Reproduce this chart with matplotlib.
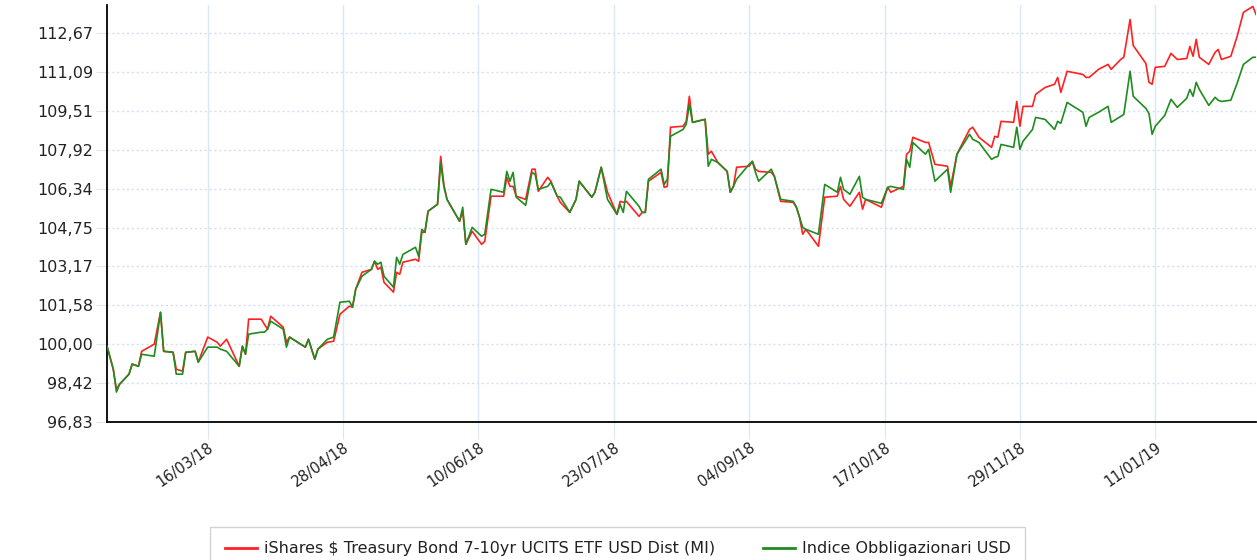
import matplotlib
matplotlib.use("Agg")
import matplotlib.pyplot as plt
import matplotlib.dates as mdates
from matplotlib.lines import Line2D
from datetime import datetime

# daily-ish closes
dates = [
    "2018-02-12", "2018-02-14", "2018-02-15", "2018-02-16", "2018-02-19", "2018-02-20", "2018-02-22", "2018-02-23", "2018-02-27", "2018-03-01",
    "2018-03-02", "2018-03-05", "2018-03-06", "2018-03-08", "2018-03-09", "2018-03-12", "2018-03-13", "2018-03-16", "2018-03-19", "2018-03-20",
    "2018-03-22", "2018-03-26", "2018-03-27", "2018-03-28", "2018-03-29", "2018-04-02", "2018-04-03", "2018-04-04", "2018-04-05", "2018-04-09",
    "2018-04-10", "2018-04-11", "2018-04-16", "2018-04-17", "2018-04-19", "2018-04-20", "2018-04-23", "2018-04-25", "2018-04-27", "2018-04-30",
    "2018-05-01", "2018-05-02", "2018-05-04", "2018-05-07", "2018-05-08", "2018-05-09", "2018-05-10", "2018-05-11", "2018-05-14", "2018-05-15",
    "2018-05-16", "2018-05-17", "2018-05-21", "2018-05-22", "2018-05-23", "2018-05-24", "2018-05-25", "2018-05-28", "2018-05-29", "2018-05-30",
    "2018-05-31", "2018-06-04", "2018-06-05", "2018-06-06", "2018-06-08", "2018-06-11", "2018-06-12", "2018-06-14", "2018-06-18", "2018-06-19",
    "2018-06-20", "2018-06-21", "2018-06-22", "2018-06-25", "2018-06-27", "2018-06-28", "2018-06-29", "2018-07-02", "2018-07-03", "2018-07-05",
    "2018-07-06", "2018-07-09", "2018-07-11", "2018-07-12", "2018-07-16", "2018-07-17", "2018-07-19", "2018-07-21", "2018-07-24", "2018-07-25",
    "2018-07-26", "2018-07-27", "2018-07-31", "2018-08-01", "2018-08-02", "2018-08-03", "2018-08-07", "2018-08-08", "2018-08-09", "2018-08-10",
    "2018-08-14", "2018-08-15", "2018-08-16", "2018-08-17", "2018-08-21", "2018-08-22", "2018-08-23", "2018-08-25", "2018-08-28", "2018-08-29",
    "2018-08-30", "2018-08-31", "2018-09-04", "2018-09-05", "2018-09-06", "2018-09-07", "2018-09-11", "2018-09-12", "2018-09-14", "2018-09-18",
    "2018-09-19", "2018-09-20", "2018-09-21", "2018-09-22", "2018-09-26", "2018-09-28", "2018-10-02", "2018-10-03", "2018-10-04", "2018-10-06",
    "2018-10-09", "2018-10-10", "2018-10-11", "2018-10-16", "2018-10-18", "2018-10-19", "2018-10-23", "2018-10-24", "2018-10-25", "2018-10-26",
    "2018-10-30", "2018-10-31", "2018-11-02", "2018-11-06", "2018-11-07", "2018-11-09", "2018-11-13", "2018-11-14", "2018-11-16", "2018-11-20",
    "2018-11-21", "2018-11-22", "2018-11-23", "2018-11-27", "2018-11-28", "2018-11-29", "2018-11-30", "2018-12-03", "2018-12-04", "2018-12-07",
    "2018-12-10", "2018-12-11", "2018-12-12", "2018-12-14", "2018-12-19", "2018-12-20", "2018-12-21", "2018-12-24", "2018-12-27", "2018-12-28",
    "2018-12-31", "2019-01-01", "2019-01-03", "2019-01-04", "2019-01-08", "2019-01-09", "2019-01-10", "2019-01-11", "2019-01-14", "2019-01-16",
    "2019-01-18", "2019-01-21", "2019-01-22", "2019-01-23", "2019-01-24", "2019-01-25", "2019-01-28", "2019-01-30", "2019-01-31", "2019-02-01",
    "2019-02-04", "2019-02-06", "2019-02-08", "2019-02-11", "2019-02-12",
]

etf = [
    99.92, 98.98, 98.17, 98.37, 98.78, 99.19, 99.10, 99.71, 100.00, 101.30,
    99.71, 99.67, 98.98, 98.90, 99.67, 99.71, 99.27, 100.29, 100.08, 99.92,
    100.20, 99.10, 99.92, 99.59, 101.02, 101.02, 100.81, 100.61, 101.14, 100.69,
    100.08, 100.29, 99.88, 100.20, 99.39, 99.80, 100.08, 100.12, 101.22, 101.55,
    101.51, 102.24, 102.93, 103.05, 103.38, 103.05, 103.14, 102.52, 102.12, 102.93,
    102.85, 103.34, 103.46, 103.38, 104.56, 104.56, 105.42, 105.70, 107.65, 106.51,
    105.90, 105.01, 105.42, 104.07, 104.60, 104.07, 104.19, 106.03, 106.03, 106.80,
    106.43, 106.43, 106.03, 105.90, 107.13, 107.13, 106.23, 106.80, 106.64, 106.03,
    105.78, 105.37, 105.90, 106.64, 105.99, 106.19, 107.21, 106.19, 105.29, 105.82,
    105.78, 105.82, 105.21, 105.37, 105.37, 106.64, 107.00, 106.39, 106.43, 108.84,
    108.88, 109.08, 110.10, 109.04, 109.16, 107.74, 107.86, 107.41, 107.04, 106.19,
    106.43, 107.21, 107.25, 107.45, 107.13, 107.04, 107.00, 106.84, 105.82, 105.78,
    105.58, 105.17, 104.48, 104.68, 103.99, 105.99, 106.03, 106.43, 105.90, 105.62,
    106.19, 105.50, 105.90, 105.58, 106.39, 106.19, 106.43, 107.74, 107.86, 108.43,
    108.22, 108.22, 107.33, 107.25, 106.43, 107.74, 108.75, 108.84, 108.43, 108.02,
    108.47, 108.43, 109.08, 109.04, 109.89, 108.88, 109.69, 109.69, 110.18, 110.46,
    110.59, 110.87, 110.26, 111.12, 110.99, 110.87, 110.87, 111.20, 111.40, 111.20,
    111.60, 111.69, 113.23, 112.17, 111.44, 110.67, 110.59, 111.28, 111.32, 111.85,
    111.60, 111.64, 112.13, 111.73, 112.42, 111.69, 111.40, 111.89, 112.01, 111.60,
    111.73, 112.54, 113.52, 113.76, 113.44,
]

index = [
    99.92, 98.98, 98.05, 98.37, 98.78, 99.19, 99.10, 99.59, 99.51, 101.30,
    99.71, 99.67, 98.78, 98.78, 99.67, 99.71, 99.27, 99.88, 99.88, 99.80,
    99.71, 99.10, 99.92, 99.59, 100.41, 100.49, 100.49, 100.61, 100.94, 100.61,
    99.88, 100.29, 99.88, 100.20, 99.39, 99.80, 100.20, 100.29, 101.71, 101.75,
    101.51, 102.24, 102.77, 103.05, 103.38, 103.26, 103.34, 102.77, 102.32, 103.54,
    103.26, 103.66, 103.95, 103.58, 104.68, 104.56, 105.42, 105.70, 107.41, 106.43,
    105.90, 105.01, 105.58, 104.07, 104.76, 104.40, 104.48, 106.31, 106.19, 107.04,
    106.64, 107.00, 105.99, 105.66, 107.00, 106.92, 106.31, 106.43, 106.60, 106.03,
    105.99, 105.37, 105.90, 106.64, 105.99, 106.19, 107.21, 105.90, 105.29, 105.70,
    105.37, 106.23, 105.62, 105.37, 105.37, 106.72, 107.13, 106.51, 106.72, 108.47,
    108.75, 108.96, 109.77, 109.04, 109.16, 107.25, 107.53, 107.41, 107.04, 106.19,
    106.43, 106.72, 107.33, 107.45, 107.00, 106.64, 107.13, 106.84, 105.90, 105.82,
    105.58, 105.17, 104.76, 104.68, 104.48, 106.51, 106.19, 106.80, 106.31, 106.11,
    106.84, 105.99, 105.90, 105.74, 106.39, 106.43, 106.31, 107.53, 107.21, 108.22,
    107.74, 107.94, 106.64, 107.13, 106.19, 107.74, 108.55, 108.35, 108.22, 107.53,
    107.61, 107.65, 108.14, 108.02, 108.84, 107.94, 108.27, 108.75, 109.24, 109.16,
    108.75, 109.08, 109.00, 109.85, 109.45, 108.88, 109.24, 109.45, 109.69, 109.04,
    109.28, 109.36, 111.12, 110.10, 109.61, 109.40, 108.55, 108.88, 109.32, 109.98,
    109.65, 110.02, 110.38, 110.10, 110.67, 110.38, 109.73, 110.06, 109.94, 109.89,
    109.94, 110.63, 111.40, 111.69, 111.69,
]

x_ticks = ["2018-03-16", "2018-04-28", "2018-06-10", "2018-07-23",
           "2018-09-04", "2018-10-17", "2018-11-29", "2019-01-11"]
y_ticks = [96.83, 98.42, 100.00, 101.58, 103.17, 104.75,
           106.34, 107.92, 109.51, 111.09, 112.67]

etf_label = "iShares $ Treasury Bond 7-10yr UCITS ETF USD Dist (MI)"
index_label = "Indice Obbligazionari USD"

to_dt = lambda s: datetime.strptime(s, "%Y-%m-%d")
x = [to_dt(d) for d in dates]

W, H = 1257, 560
fig = plt.figure(figsize=(W / 100, H / 100), dpi=100)
ax = fig.add_axes([107 / W, 138 / H, (1256 - 107) / W, (555 - 138) / H])

grid_c = "#dbe7f5"
ax.plot(x, index, color="#1e8c1e", lw=1.2, zorder=3)
ax.plot(x, etf, color="#ff2020", lw=1.2, zorder=2)

ax.set_xlim(to_dt("2018-02-12"), to_dt("2019-02-12"))
ax.set_ylim(96.83, 113.82)

ax.set_xticks([to_dt(d) for d in x_ticks])
ax.xaxis.set_major_formatter(mdates.DateFormatter("%d/%m/%y"))
ax.set_yticks(y_ticks)
ax.set_yticklabels([f"{v:.2f}".replace(".", ",") for v in y_ticks])

for t in ax.get_xticks():
    ax.axvline(t, color=grid_c, lw=1, zorder=0)
for v in y_ticks[1:]:
    ax.axhline(v, color="#cfe0f2", lw=1, ls=(0, (1.5, 2)), zorder=0)

for s in ("top", "right"):
    ax.spines[s].set_visible(False)
for s in ("left", "bottom"):
    ax.spines[s].set_color("black")
    ax.spines[s].set_linewidth(1.3)

ax.tick_params(axis="x", length=12, color=grid_c, labelsize=10.5, labelcolor="#222222", pad=1)
ax.tick_params(axis="y", length=8, color=grid_c, labelsize=11.5, labelcolor="#222222", pad=2)
plt.setp(ax.get_xticklabels(), rotation=35, ha="right", rotation_mode="anchor")

handles = [Line2D([], [], color="#ff2020", lw=2), Line2D([], [], color="#1e8c1e", lw=2)]
leg = fig.legend(handles, [etf_label, index_label], loc="upper center",
                 bbox_to_anchor=(0.4916, 0.059), borderaxespad=0, ncol=2,
                 fontsize=11.5, frameon=True, fancybox=False, edgecolor="#c8c8c8",
                 handlelength=2.0, handletextpad=0.45, columnspacing=3.0,
                 borderpad=0.9)
leg.get_frame().set_linewidth(1)
for t in leg.get_texts():
    t.set_color("#222222")

fig.savefig("out.png", dpi=100)
